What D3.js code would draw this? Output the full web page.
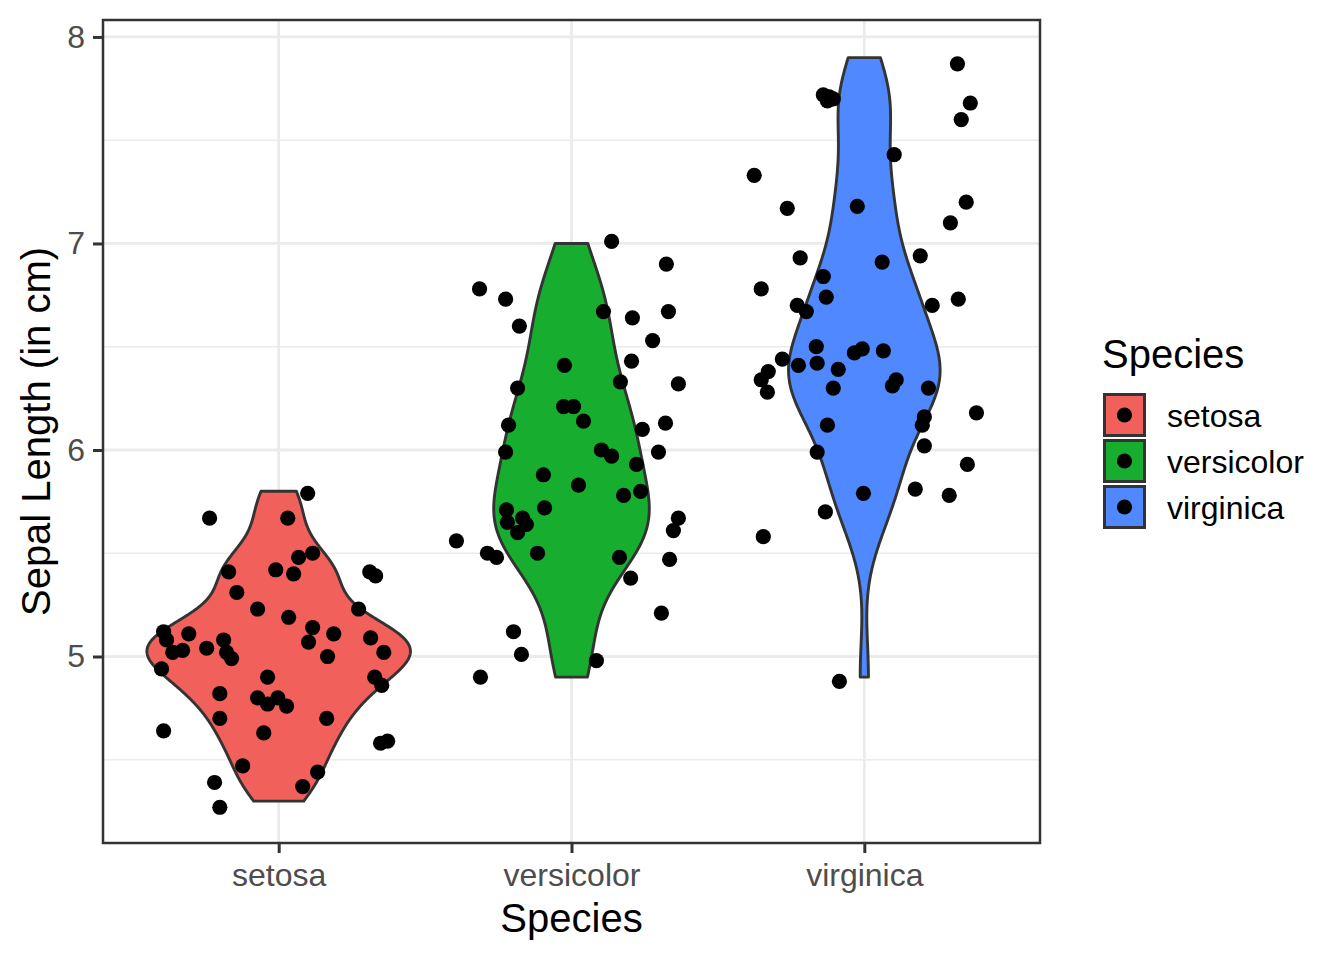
<!DOCTYPE html>
<html>
<head>
<meta charset="utf-8">
<script src="https://cdn.jsdelivr.net/npm/d3@7"></script>
<style>
  html, body { margin: 0; padding: 0; background: #ffffff; }
  svg { display: block; font-family: "Liberation Sans", Arial, Helvetica, sans-serif; }
</style>
</head>
<body>
<svg id="chart" width="1344" height="960"></svg>
<script>
// ---------------- DATA ----------------
const species = ["setosa", "versicolor", "virginica"];
const speciesColors = ["#F2605B", "#17AE2F", "#4F88FF"];
const yTicks = [5, 6, 7, 8];
const yMinorTicks = [4.5, 5.5, 6.5, 7.5];

// Sepal length measurements (iris) used for the violin densities
const setosaLength = [5.1,4.9,4.7,4.6,5.0,5.4,4.6,5.0,4.4,4.9,5.4,4.8,4.8,4.3,5.8,5.7,5.4,5.1,5.7,5.1,5.4,5.1,4.6,5.1,4.8,5.0,5.0,5.2,5.2,4.7,4.8,5.4,5.2,5.5,4.9,5.0,5.5,4.9,4.4,5.1,5.0,4.5,4.4,5.0,5.1,4.8,5.1,4.6,5.3,5.0];
const versicolorLength = [7.0,6.4,6.9,5.5,6.5,5.7,6.3,4.9,6.6,5.2,5.0,5.9,6.0,6.1,5.6,6.7,5.6,5.8,6.2,5.6,5.9,6.1,6.3,6.1,6.4,6.6,6.8,6.7,6.0,5.7,5.5,5.5,5.8,6.0,5.4,6.0,6.7,6.3,5.6,5.5,5.5,6.1,5.8,5.0,5.6,5.7,5.7,6.2,5.1,5.7];
const virginicaLength = [6.3,5.8,7.1,6.3,6.5,7.6,4.9,7.3,6.7,7.2,6.5,6.4,6.8,5.7,5.8,6.4,6.5,7.7,7.7,6.0,6.9,5.6,7.7,6.3,6.7,7.2,6.2,6.1,6.4,7.2,7.4,7.9,6.4,6.3,6.1,7.7,6.3,6.4,6.0,6.9,6.7,6.9,5.8,6.8,6.7,6.7,6.3,6.5,6.2,5.9];

// Jittered points: [horizontal offset (category units), sepal length]
const setosaPoints = [[-0.236,5.67],[-0.171,5.41],[-0.010,5.42],[-0.143,5.31],[-0.072,5.23],[-0.393,5.12],[-0.383,5.08],[-0.307,5.11],[-0.362,5.02],[-0.328,5.03],[-0.246,5.04],[-0.188,5.08],[-0.178,5.02],[-0.161,4.99],[-0.400,4.94],[-0.038,4.90],[-0.201,4.82],[-0.072,4.80],[-0.038,4.77],[-0.003,4.80],[-0.201,4.70],[-0.393,4.64],[-0.051,4.63],[-0.123,4.47],[-0.219,4.39],[-0.201,4.27],[0.099,5.79],[0.031,5.67],[0.068,5.48],[0.116,5.50],[0.051,5.40],[0.311,5.41],[0.331,5.39],[0.273,5.23],[0.034,5.19],[0.116,5.14],[0.188,5.11],[0.102,5.07],[0.314,5.09],[0.359,5.02],[0.167,5.00],[0.328,4.90],[0.352,4.86],[0.027,4.76],[0.164,4.70],[0.348,4.58],[0.372,4.59],[0.133,4.44],[0.082,4.37]];
const versicolorPoints = [[-0.314,6.78],[-0.225,6.73],[-0.178,6.60],[-0.024,6.41],[-0.184,6.30],[-0.027,6.21],[0.007,6.21],[0.041,6.14],[-0.215,6.12],[-0.225,5.99],[-0.096,5.88],[0.024,5.83],[-0.222,5.71],[-0.092,5.72],[-0.219,5.65],[-0.167,5.67],[-0.154,5.64],[-0.184,5.60],[-0.393,5.56],[-0.287,5.50],[-0.256,5.48],[-0.116,5.50],[-0.198,5.12],[-0.171,5.01],[-0.311,4.90],[0.137,7.01],[0.324,6.90],[0.109,6.67],[0.208,6.64],[0.331,6.67],[0.277,6.53],[0.205,6.43],[0.167,6.33],[0.365,6.32],[0.242,6.10],[0.321,6.13],[0.102,6.00],[0.137,5.97],[0.297,5.99],[0.222,5.93],[0.178,5.78],[0.236,5.80],[0.365,5.67],[0.348,5.61],[0.164,5.48],[0.335,5.47],[0.202,5.38],[0.307,5.21],[0.085,4.98]];
const virginicaPoints = [[-0.140,7.72],[-0.120,7.71],[-0.106,7.70],[-0.126,7.69],[-0.376,7.33],[-0.263,7.17],[-0.024,7.18],[-0.219,6.93],[-0.352,6.78],[-0.140,6.84],[-0.130,6.74],[-0.229,6.70],[-0.198,6.67],[-0.164,6.50],[-0.280,6.44],[-0.225,6.41],[-0.161,6.42],[-0.089,6.39],[-0.034,6.47],[-0.007,6.49],[-0.328,6.38],[-0.352,6.34],[-0.331,6.28],[-0.106,6.30],[0.318,7.87],[0.362,7.68],[0.331,7.60],[0.102,7.43],[0.348,7.20],[0.294,7.10],[0.191,6.94],[0.061,6.91],[0.232,6.70],[0.321,6.73],[0.065,6.48],[0.109,6.34],[0.096,6.31],[0.219,6.30],[-0.126,6.12],[-0.161,5.99],[-0.003,5.79],[-0.133,5.70],[-0.345,5.58],[-0.085,4.88],[0.383,6.18],[0.205,6.16],[0.198,6.12],[0.205,6.02],[0.352,5.93],[0.174,5.81],[0.290,5.78]];

const lengthsBySpecies = [setosaLength, versicolorLength, virginicaLength];
const pointsBySpecies = [setosaPoints, versicolorPoints, virginicaPoints];

// ---------------- LAYOUT ----------------
const panel = { left: 103, right: 1040, top: 20, bottom: 843 };
const FONT_TEXT = "32px", FONT_TITLE = "40px";
const svg = d3.select("#chart");

const x = d3.scalePoint().domain(species).range([panel.left, panel.right]).padding(0.6);
const y = d3.scaleLinear().domain([4.097, 8.082]).range([panel.bottom, panel.top]);
const color = d3.scaleOrdinal().domain(species).range(speciesColors);
const step = x.step();

// ---------------- VIOLIN DENSITIES (gaussian kde, bw.nrd0, trimmed) ----------------
function bwNrd0(v) {
  const s = v.slice().sort(d3.ascending);
  const sd = d3.deviation(s);
  const iqr = d3.quantileSorted(s, 0.75) - d3.quantileSorted(s, 0.25);
  const lo = Math.min(sd, iqr / 1.34);
  return 0.9 * lo * Math.pow(v.length, -0.2);
}
function kde(v, n) {
  const bw = bwNrd0(v);
  const [lo, hi] = d3.extent(v);
  const c = 1 / (v.length * bw * Math.sqrt(2 * Math.PI));
  return d3.range(n).map(i => {
    const t = lo + (hi - lo) * i / (n - 1);
    let sum = 0;
    for (const xi of v) { const z = (t - xi) / bw; sum += Math.exp(-0.5 * z * z); }
    return { v: t, d: sum * c };
  });
}
const densities = lengthsBySpecies.map(v => kde(v, 512));
const maxDensity = d3.max(densities, ds => d3.max(ds, d => d.d));

// ---------------- GRID ----------------
const grid = svg.append("g");
grid.selectAll("line.minor").data(yMinorTicks).join("line")
  .attr("x1", panel.left).attr("x2", panel.right)
  .attr("y1", d => y(d)).attr("y2", d => y(d))
  .attr("stroke", "#EBEBEB").attr("stroke-width", 1.4);
grid.selectAll("line.majy").data(yTicks).join("line")
  .attr("x1", panel.left).attr("x2", panel.right)
  .attr("y1", d => y(d)).attr("y2", d => y(d))
  .attr("stroke", "#EBEBEB").attr("stroke-width", 2.8);
grid.selectAll("line.majx").data(species).join("line")
  .attr("y1", panel.top).attr("y2", panel.bottom)
  .attr("x1", d => x(d)).attr("x2", d => x(d))
  .attr("stroke", "#EBEBEB").attr("stroke-width", 2.8);

// ---------------- VIOLINS ----------------
species.forEach((sp, i) => {
  const cx = x(sp);
  const area = d3.area()
    .y(d => y(d.v))
    .x0(d => cx - 0.45 * step * d.d / maxDensity)
    .x1(d => cx + 0.45 * step * d.d / maxDensity);
  svg.append("path")
    .datum(densities[i])
    .attr("d", area)
    .attr("fill", color(sp))
    .attr("stroke", "#333333")
    .attr("stroke-width", 2.9)
    .attr("stroke-linejoin", "round");
});

// ---------------- POINTS ----------------
species.forEach((sp, i) => {
  svg.append("g").selectAll("circle").data(pointsBySpecies[i]).join("circle")
    .attr("cx", d => x(sp) + d[0] * step)
    .attr("cy", d => y(d[1]))
    .attr("r", 7.6)
    .attr("fill", "#000000");
});

// ---------------- PANEL BORDER ----------------
svg.append("rect")
  .attr("x", panel.left).attr("y", panel.top)
  .attr("width", panel.right - panel.left).attr("height", panel.bottom - panel.top)
  .attr("fill", "none").attr("stroke", "#333333").attr("stroke-width", 2.5);

// ---------------- AXES ----------------
const yAxis = svg.append("g")
  .attr("transform", `translate(${panel.left},0)`)
  .call(d3.axisLeft(y).tickValues(yTicks).tickSize(10).tickPadding(8).tickFormat(d3.format("d")));
const xAxis = svg.append("g")
  .attr("transform", `translate(0,${panel.bottom})`)
  .call(d3.axisBottom(x).tickSize(10).tickPadding(10.5));
[yAxis, xAxis].forEach(a => {
  a.select(".domain").remove();
  a.selectAll(".tick line").attr("stroke", "#333333").attr("stroke-width", 3);
  a.selectAll(".tick text").attr("fill", "#4D4D4D").style("font-size", FONT_TEXT)
    .style("font-family", "'Liberation Sans', Arial, Helvetica, sans-serif");
});

// axis titles
svg.append("text")
  .attr("x", (panel.left + panel.right) / 2).attr("y", 932)
  .attr("text-anchor", "middle").attr("fill", "#000")
  .style("font-size", FONT_TITLE).text("Species");
svg.append("text")
  .attr("transform", `translate(49.5,${(panel.top + panel.bottom) / 2}) rotate(-90)`)
  .attr("text-anchor", "middle").attr("fill", "#000")
  .style("font-size", FONT_TITLE).text("Sepal Length (in cm)");

// ---------------- LEGEND ----------------
const legend = svg.append("g");
legend.append("text")
  .attr("x", 1102).attr("y", 368)
  .attr("fill", "#000").style("font-size", FONT_TITLE).text("Species");
const keyTop = 394.5, keyStep = 46;
const keys = legend.selectAll("g.key").data(species).join("g")
  .attr("transform", (d, i) => `translate(0,${keyTop + i * keyStep})`);
keys.append("rect")
  .attr("x", 1104.5).attr("y", 0).attr("width", 40).attr("height", 41)
  .attr("fill", d => color(d)).attr("stroke", "#333333").attr("stroke-width", 3);
keys.append("circle")
  .attr("cx", 1124.5).attr("cy", 20.5).attr("r", 7.6).attr("fill", "#000");
keys.append("text")
  .attr("x", 1167).attr("y", 32.5)
  .attr("fill", "#000").style("font-size", FONT_TEXT).text(d => d);
</script>
</body>
</html>
